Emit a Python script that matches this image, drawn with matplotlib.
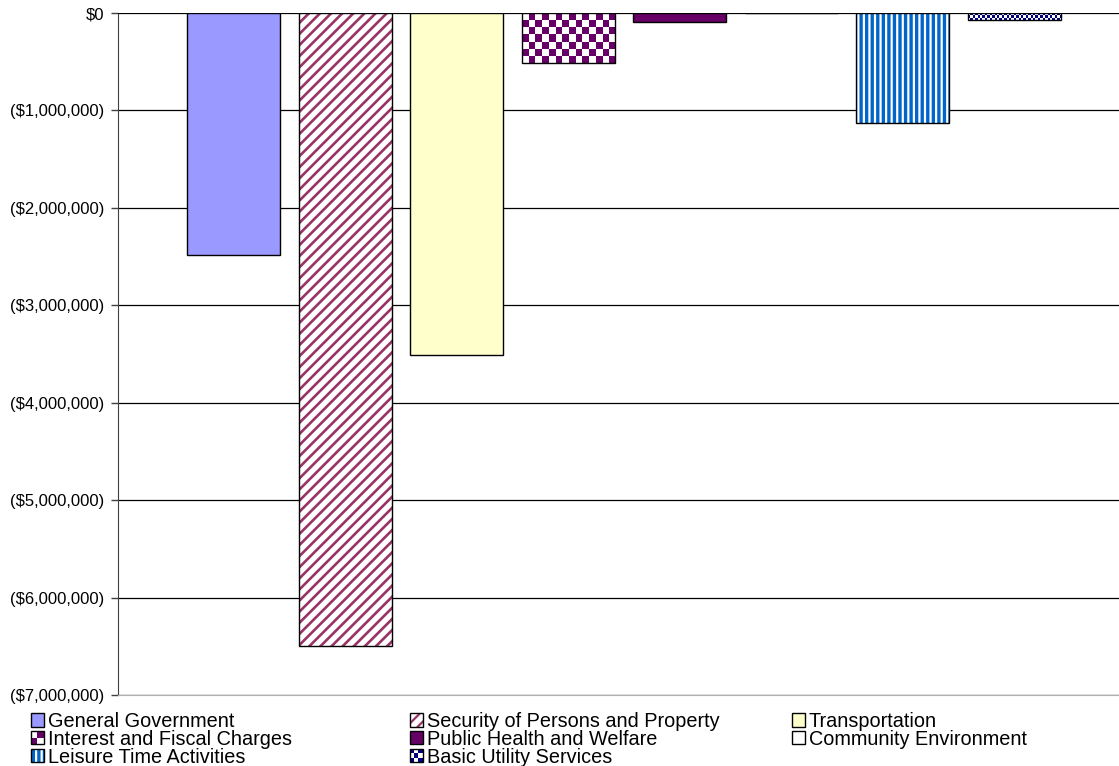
import numpy as np
import matplotlib
matplotlib.use("Agg")
import matplotlib.pyplot as plt
from matplotlib.patches import Rectangle
from matplotlib.legend_handler import HandlerPatch
from matplotlib.ticker import FuncFormatter

plt.rcParams['font.family'] = ['Liberation Sans', 'DejaVu Sans']

categories = ["General Government", "Security of Persons and Property", "Transportation",
              "Interest and Fiscal Charges", "Public Health and Welfare", "Community Environment",
              "Leisure Time Activities", "Basic Utility Services"]
values = [-2480000, -6500000, -3510000, -510000, -90000, 0, -1130000, -70000]

faces = ["#9999FF", "white", "#FFFFCC", "none", "#660066", "white", "#0066CC", "none"]
hatches = [None, "///", None, None, None, None, "|||", None]
hatch_cols = [None, "#993366", None, None, None, None, "white", None]
hatch_lw = [None, 1.9, None, None, None, None, 1.6, None]
checkers = {3: ("#660066", 6.7), 7: ("#000080", 2.4)}

fig = plt.figure(figsize=(11.19, 7.66), dpi=100)
ax = fig.add_axes([118 / 1119, 1 - 695 / 766, 1 - 118 / 1119, 682 / 766])

x = np.arange(len(categories))
bars = []
for i in range(len(categories)):
    if hatch_lw[i]:
        plt.rcParams['hatch.linewidth'] = hatch_lw[i]
    b = ax.bar(x[i], values[i], width=0.834, color=faces[i], edgecolor="black",
               linewidth=1.0, hatch=hatches[i], zorder=3)[0]
    if hatch_cols[i]:
        b._hatch_color = matplotlib.colors.to_rgba(hatch_cols[i])
        if hasattr(b, "set_hatch_linewidth"):
            b.set_hatch_linewidth(hatch_lw[i])
    bars.append(b)

ax.set_xlim(-1.036, 7.94)
ax.set_ylim(-7000000, 0)

# checkerboard fills
fig.canvas.draw()
for i, (col, sq) in checkers.items():
    b = bars[i]
    bb = b.get_window_extent()
    nx = max(int(round(bb.width / sq)), 1)
    ny = max(int(round(bb.height / sq)), 1)
    pat = (np.add.outer(np.arange(ny), np.arange(nx)) % 2).astype(float)
    cmap = matplotlib.colors.ListedColormap(["white", col])
    x0, w = b.get_x(), b.get_width()
    y0, h = b.get_y(), b.get_height()
    ax.imshow(pat, cmap=cmap, extent=(x0, x0 + w, y0 + h, y0), origin="upper",
              aspect="auto", interpolation="nearest", zorder=2.9)
ax.set_xlim(-1.036, 7.94)
ax.set_ylim(-7000000, 0)

ax.set_xticks([])
ax.set_yticks(np.arange(-7000000, 1, 1000000))
ax.yaxis.set_major_formatter(FuncFormatter(
    lambda v, p: "$0" if v == 0 else "(${:,.0f})".format(abs(v))))
ax.tick_params(axis="y", labelsize=12, length=5, width=1, color="#404040", pad=5)
ax.grid(axis="y", color="black", linewidth=0.9, zorder=0)
ax.set_axisbelow(True)
for s in ["top", "right"]:
    ax.spines[s].set_visible(False)
ax.spines["left"].set_color("#404040")
ax.spines["bottom"].set_color("#b0b0b0")
ax.axhline(0, color="black", linewidth=1.2, zorder=4)


class CheckerHandler(HandlerPatch):
    def __init__(self, col, n):
        super().__init__()
        self.col = col
        self.n = n

    def create_artists(self, legend, orig_handle, xdescent, ydescent, width, height, fontsize, trans):
        arts = [Rectangle((-xdescent, -ydescent), width, height, facecolor="white",
                          edgecolor="none", transform=trans)]
        dw, dh = width / self.n, height / self.n
        for r in range(self.n):
            for c in range(self.n):
                if (r + c) % 2 == 0:
                    arts.append(Rectangle((-xdescent + c * dw, -ydescent + r * dh), dw, dh,
                                          facecolor=self.col, edgecolor="none", transform=trans))
        arts.append(Rectangle((-xdescent, -ydescent), width, height, facecolor="none",
                              edgecolor="black", linewidth=1.0, transform=trans))
        return arts


handler_map = {bars[3]: CheckerHandler("#660066", 2), bars[7]: CheckerHandler("#000080", 3)}
cols = [[0, 3, 6], [1, 4, 7], [2, 5]]
lefts = [31, 410, 792]
for c, left in zip(cols, lefts):
    fig.legend([bars[k] for k in c], [categories[k] for k in c], loc="upper left",
               bbox_to_anchor=(left / 1119, 1 - 712 / 766), frameon=False, fontsize=14.3,
               handlelength=0.64, handleheight=0.64, handletextpad=0.2, labelspacing=-0.06,
               borderpad=0, borderaxespad=0, handler_map=handler_map)

fig.savefig("out.png", dpi=100)
